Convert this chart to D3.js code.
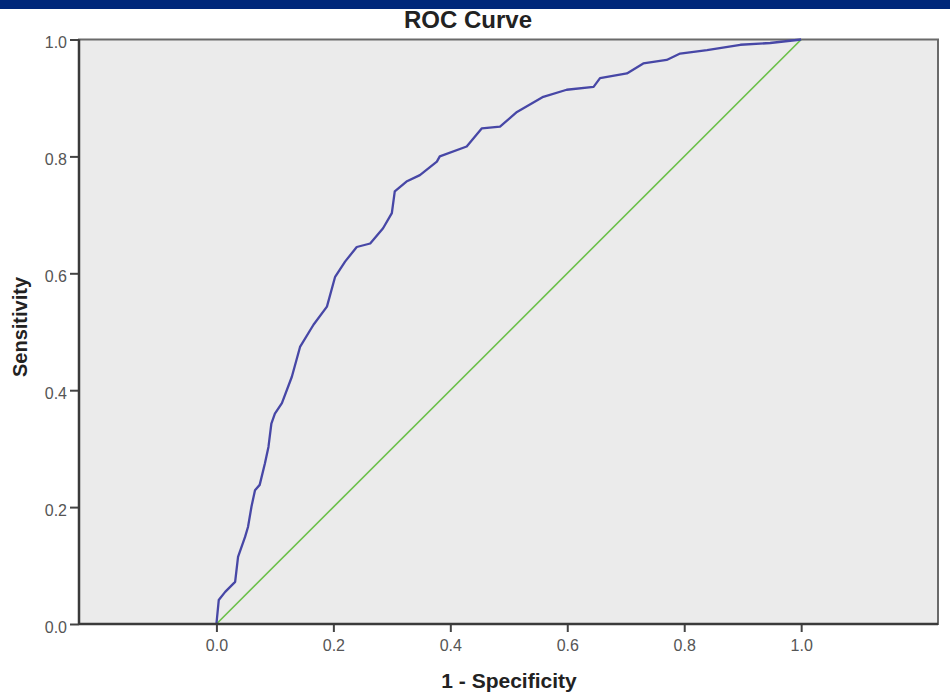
<!DOCTYPE html>
<meta charset="utf-8">
<style>
  body { margin: 0; background: #fff; }
  text { font-family: "Liberation Sans", Arial, sans-serif; }
</style>
<body>
<div id="my_dataviz"></div>

<script src="https://d3js.org/d3.v7.min.js"></script>
<script>

// ROC points: 1 - specificity and sensitivity
var fpr = [0, 0.004, 0.015, 0.032, 0.037, 0.049, 0.054, 0.060, 0.066, 0.074,
           0.083, 0.089, 0.094, 0.100, 0.112, 0.129, 0.143, 0.166, 0.189, 0.203,
           0.220, 0.240, 0.263, 0.285, 0.300, 0.305, 0.325, 0.348, 0.377, 0.382,
           0.428, 0.454, 0.485, 0.514, 0.559, 0.599, 0.645, 0.656, 0.702, 0.730,
           0.770, 0.793, 0.839, 0.896, 0.947, 1];
var tpr = [0, 0.041, 0.055, 0.072, 0.115, 0.149, 0.166, 0.201, 0.229, 0.238,
           0.275, 0.303, 0.343, 0.360, 0.378, 0.423, 0.474, 0.512, 0.543, 0.594,
           0.620, 0.645, 0.651, 0.677, 0.703, 0.740, 0.757, 0.768, 0.791, 0.800,
           0.817, 0.848, 0.851, 0.876, 0.902, 0.914, 0.919, 0.934, 0.942, 0.959,
           0.965, 0.976, 0.982, 0.991, 0.994, 1];

// reference line
var refX = [0, 1];
var refY = [0, 1];

var tickValues = [0, 0.2, 0.4, 0.6, 0.8, 1.0];

var width = 950, height = 700;

var svg = d3.select("#my_dataviz")
  .append("svg")
    .attr("width", width)
    .attr("height", height);

// blue band on top
svg.append("rect")
  .attr("x", 0).attr("y", 0)
  .attr("width", width).attr("height", 9)
  .attr("fill", "#00287a");

// scales (x runs a bit past 0 and 1 like the SPSS frame)
var x = d3.scaleLinear()
  .domain([-0.235, 1.234])
  .range([79, 938]);
var y = d3.scaleLinear()
  .domain([0, 1])
  .range([624, 39.5]);

// plot background
svg.append("rect")
  .attr("x", x.range()[0])
  .attr("y", y.range()[1])
  .attr("width", x.range()[1] - x.range()[0])
  .attr("height", y.range()[0] - y.range()[1])
  .attr("fill", "#ebebeb")
  .attr("stroke", "#6a6a6a")
  .attr("stroke-width", 2);

// diagonal
svg.append("path")
  .datum(d3.range(refX.length))
  .attr("fill", "none")
  .attr("stroke", "#6cc04a")
  .attr("stroke-width", 1.6)
  .attr("d", d3.line()
    .x(function(i) { return x(refX[i]); })
    .y(function(i) { return y(refY[i]); }));

// ROC curve
svg.append("path")
  .datum(d3.range(fpr.length))
  .attr("fill", "none")
  .attr("stroke", "#4747a6")
  .attr("stroke-width", 2.3)
  .attr("stroke-linejoin", "round")
  .attr("d", d3.line()
    .x(function(i) { return x(fpr[i]); })
    .y(function(i) { return y(tpr[i]); }));

// X axis
var gx = svg.append("g")
  .attr("transform", "translate(0," + y(0) + ")")
  .call(d3.axisBottom(x).tickValues(tickValues).tickFormat(d3.format(".1f"))
    .tickSize(8).tickPadding(7.5));
gx.select(".domain").remove();
gx.selectAll("line").attr("stroke", "#444").attr("stroke-width", 2);
gx.selectAll("text").attr("font-size", "16px").attr("fill", "#555");

// Y axis
var gy = svg.append("g")
  .attr("transform", "translate(" + x.range()[0] + ",0)")
  .call(d3.axisLeft(y).tickValues(tickValues).tickFormat(d3.format(".1f"))
    .tickSize(9).tickPadding(3));
gy.select(".domain").remove();
gy.selectAll("line").attr("stroke", "#444").attr("stroke-width", 2);
gy.selectAll("text").attr("font-size", "16px").attr("fill", "#555").attr("dy", "0.5em");

// axis lines (left and bottom, darker)
svg.append("line")
  .attr("x1", x.range()[0]).attr("x2", x.range()[0])
  .attr("y1", y.range()[1]).attr("y2", y.range()[0])
  .attr("stroke", "#3a3a3a").attr("stroke-width", 2.5);
svg.append("line")
  .attr("x1", x.range()[0]).attr("x2", x.range()[1])
  .attr("y1", y.range()[0]).attr("y2", y.range()[0])
  .attr("stroke", "#3a3a3a").attr("stroke-width", 2.5);

// title
svg.append("text")
  .attr("x", 468)
  .attr("y", 28)
  .attr("text-anchor", "middle")
  .attr("font-size", "24px")
  .attr("font-weight", "bold")
  .attr("fill", "#222")
  .text("ROC Curve");

// axis titles
svg.append("text")
  .attr("x", 509)
  .attr("y", 688)
  .attr("text-anchor", "middle")
  .attr("font-size", "21px")
  .attr("font-weight", "bold")
  .attr("fill", "#222")
  .text("1 - Specificity");

svg.append("text")
  .attr("transform", "translate(27,327)rotate(-90)")
  .attr("text-anchor", "middle")
  .attr("font-size", "20px")
  .attr("font-weight", "bold")
  .attr("fill", "#222")
  .text("Sensitivity");

</script>
</body>
